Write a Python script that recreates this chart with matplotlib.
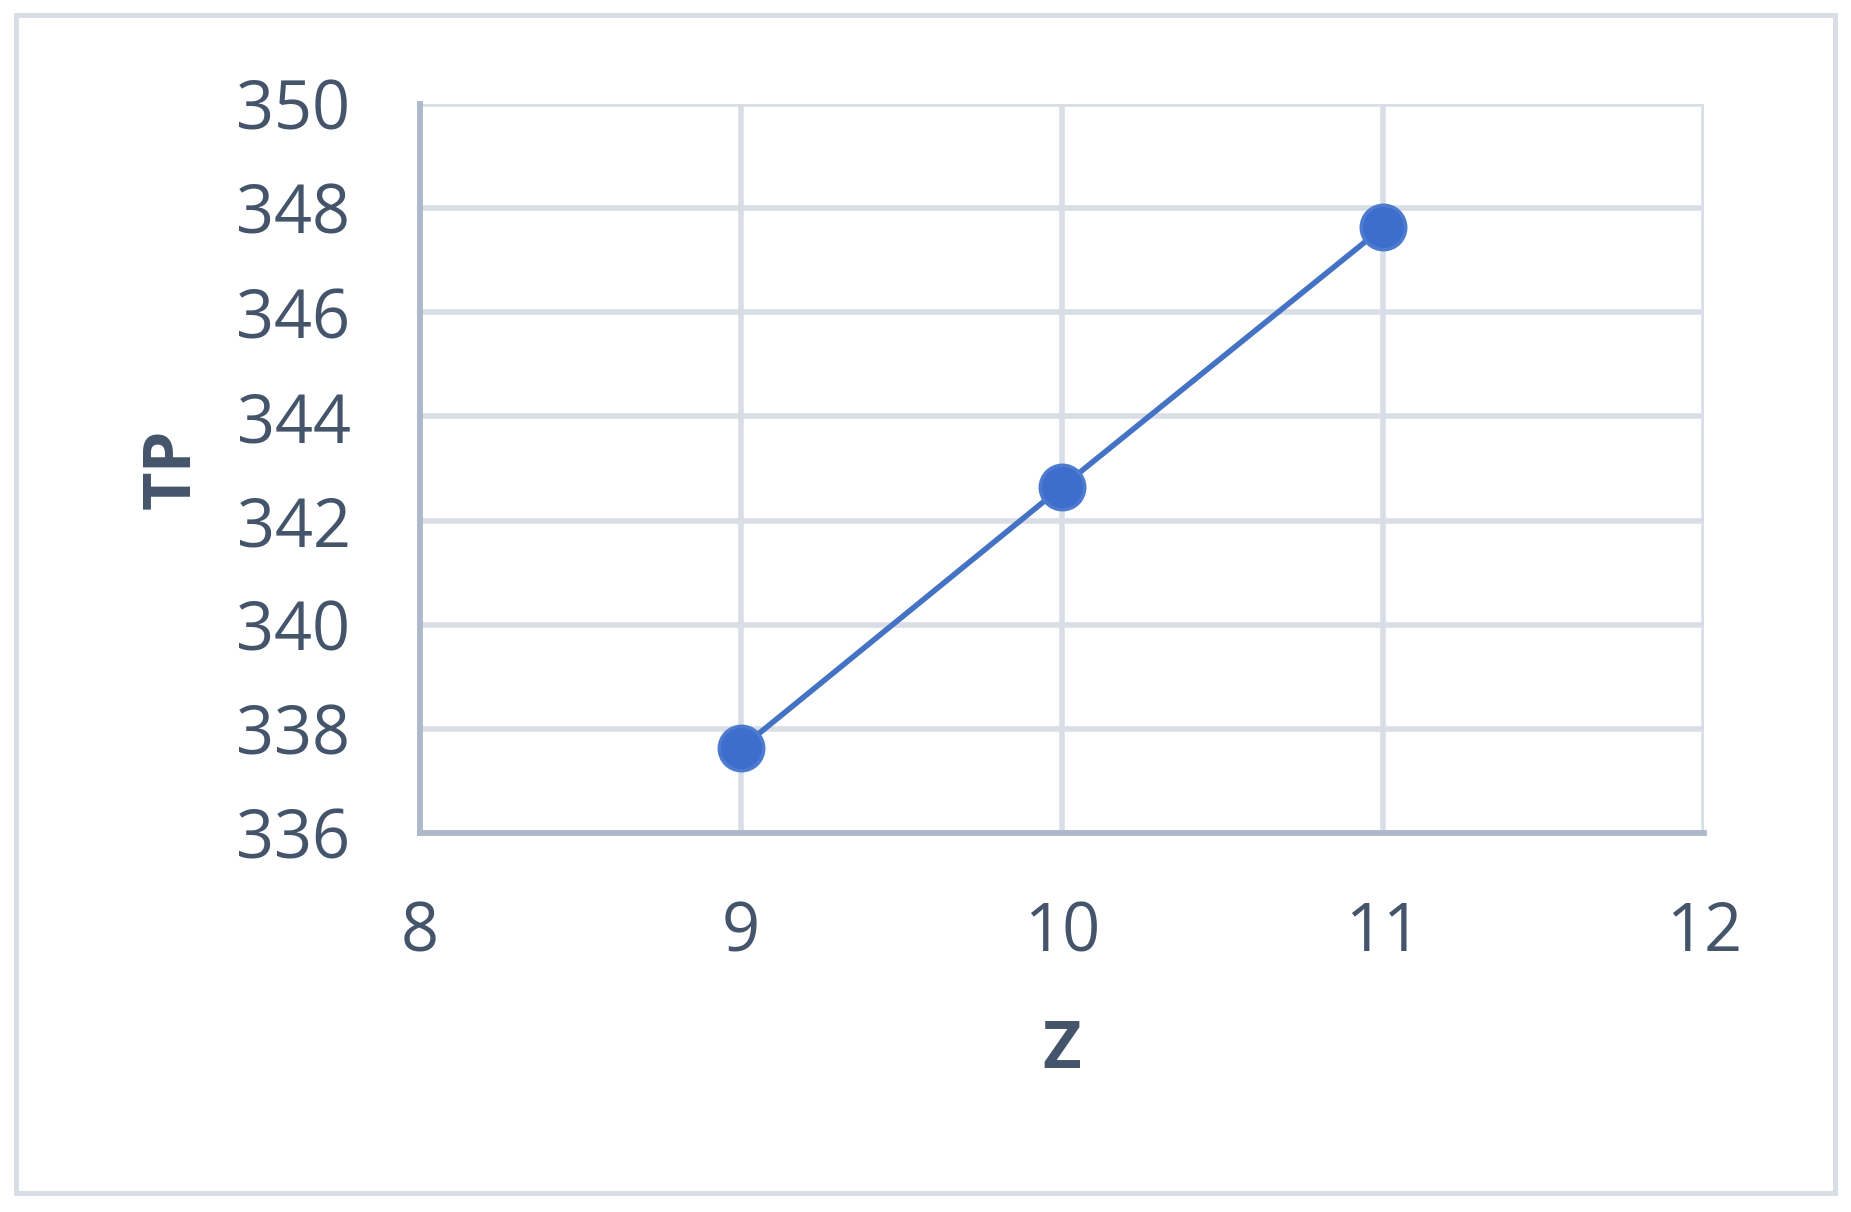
import matplotlib
matplotlib.use("Agg")
import matplotlib.pyplot as plt
from matplotlib.patches import Rectangle

z_values = [9, 10, 11]
tp_values = [337.63, 342.65, 347.63]
x_ticks = [8, 9, 10, 11, 12]
y_ticks = [336, 338, 340, 342, 344, 346, 348, 350]

TEXT = "#44546A"
GRID = "#D9DEE6"
SPINE = "#ADB9CA"
LINE = "#4472C4"

plt.rcParams["font.family"] = ["Open Sans", "DejaVu Sans"]

W, H = 1851, 1212
fig = plt.figure(figsize=(W / 100, H / 100), dpi=100)

# outer chart border
fig.patches.append(Rectangle((16 / W, 1 - 1193 / H), (1835 - 16) / W, (1193 - 15) / H,
                             transform=fig.transFigure, fill=False,
                             edgecolor=GRID, linewidth=3.6))

left, right, top, bottom = 420, 1704, 104, 833
ax = fig.add_axes([left / W, 1 - bottom / H, (right - left) / W, (bottom - top) / H])

ax.set_xlim(8, 12)
ax.set_ylim(336, 350)
ax.set_xticks(x_ticks)
ax.set_yticks(y_ticks)
ax.grid(True, color=GRID, linewidth=4.0)
ax.set_axisbelow(True)

for s in ["top", "right"]:
    ax.spines[s].set_visible(False)
for s in ["left", "bottom"]:
    ax.spines[s].set_color(SPINE)
    ax.spines[s].set_linewidth(4.2)

ax.tick_params(axis="both", length=0, labelsize=48, labelcolor=TEXT)
ax.tick_params(axis="y", pad=50)
ax.tick_params(axis="x", pad=48)

ax.plot(z_values, tp_values, color=LINE, linewidth=4.0, marker="o",
        markersize=32, markerfacecolor="#3E6ECD", markeredgecolor="#4D7BCF",
        markeredgewidth=2.5, zorder=5, clip_on=False)

ax.set_xlabel("Z", fontsize=48, fontweight="bold", color=TEXT, labelpad=36)
ax.set_ylabel("TP", fontsize=48, fontweight="bold", color=TEXT, labelpad=22)

fig.savefig("out.png", dpi=100, facecolor="white")
